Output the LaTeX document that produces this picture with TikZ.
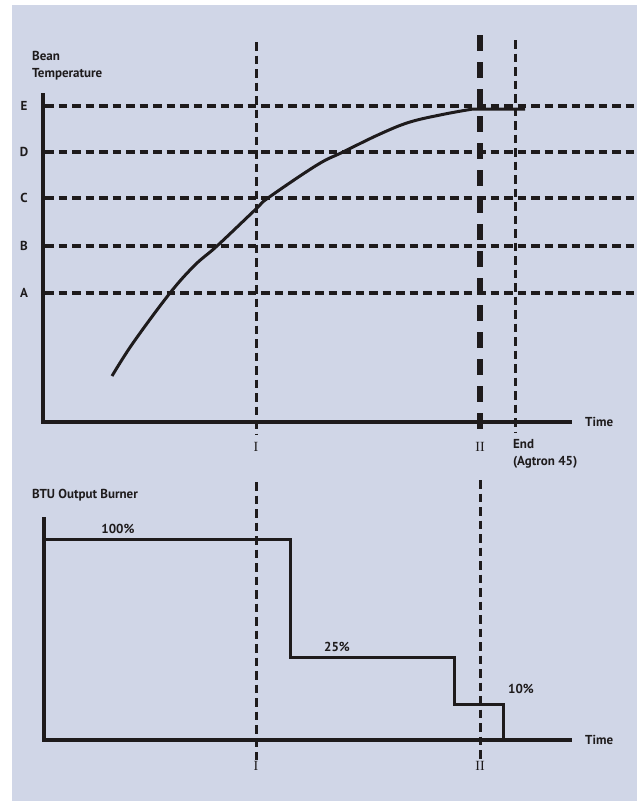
\documentclass[tikz,border=0pt]{standalone}
\usepackage{fontspec}
\setmainfont{PT Sans}
\newfontfamily\numfont{Liberation Serif}
\definecolor{bg}{RGB}{208,214,231}
\definecolor{ink}{RGB}{30,27,28}
\begin{document}
\begin{tikzpicture}[x=1pt,y=-1pt,
 axis/.style={ink, line width=3.2pt},
 gridline/.style={ink, line width=3.2pt, dash pattern=on 8.5pt off 5pt},
 vline/.style={ink, line width=3pt, dash pattern=on 8.5pt off 5pt},
 thickline/.style={ink, line width=6.5pt, dash pattern=on 16pt off 11pt},
 curveline/.style={ink, line width=3pt},
 stepline/.style={ink, line width=3pt},
 lbl/.style={font=\bfseries\fontsize{13}{17}\selectfont, text=ink, inner sep=0pt},
 roman/.style={font=\numfont\fontsize{14}{16}\selectfont, text=ink, inner sep=0pt}]
\useasboundingbox (0,0) rectangle (637,801);
\fill[white] (0,0) rectangle (637,801);
\fill[bg] (12,5) rectangle (637,801);

% ---------- upper chart ----------
\node[lbl, anchor=north west, align=left] (title1) at (32,51) {Bean\\Temperature};
\foreach \n/\y in {E/106, D/152, C/198, B/246, A/293}{
  \node[lbl] (l\n) at (24,\y) {\n};
  \coordinate (g\n a) at (45,\y);
  \coordinate (g\n b) at (637,\y);
  \draw[gridline] (g\n a) -- (g\n b);
}
% vertical markers
\coordinate (v1t) at (256,42);  \coordinate (v1b) at (256,435);
\coordinate (v2t) at (480,35);  \coordinate (v2b) at (480,433);
\coordinate (v3t) at (515,40);  \coordinate (v3b) at (515,433);
\draw[vline] (v1t) -- (v1b);
\draw[thickline] (v2t) -- (v2b);
\draw[vline] (v3t) -- (v3b);

% axes
\coordinate (yt1) at (43,93);
\coordinate (o1) at (43,422);
\coordinate (xe1) at (572,422);
\draw[axis] (yt1) -- (o1) -- (xe1);
\node[lbl, anchor=west] (time1) at (585,422) {Time};

% curve
\coordinate (ce) at (525,109);
\draw[curveline] plot[smooth, tension=0.6] coordinates {(112,376) (133,343) (170,293) (195,265) (217,246) (256,209) (268,198) (317,165) (343,152) (380,134) (410,122) (445,114) (473,109)} -- (ce);

\node[roman] (r1) at (256,447) {I};
\node[roman] (r2) at (480,447) {II};
\node[lbl, anchor=north west, align=left] (endl) at (513,439) {End\\(Agtron 45)};

% ---------- lower chart ----------
\node[lbl, anchor=west] (title2) at (32,495) {BTU Output Burner};
\coordinate (w1t) at (256,482); \coordinate (w1b) at (256,760);
\coordinate (w2t) at (480,480); \coordinate (w2b) at (480,760);
\draw[vline] (w1t) -- (w1b);
\draw[vline] (w2t) -- (w2b);

\coordinate (yt2) at (44,517);
\coordinate (o2) at (44,740);
\coordinate (xe2) at (572,740);
\draw[axis] (yt2) -- (o2) -- (xe2);
\node[lbl, anchor=west] (time2) at (585,740) {Time};

\draw[stepline] (44,539) -- (290,539) -- (290,657) -- (454,657) -- (454,704) -- (503,704) -- (503,740);
\node[lbl] (p100) at (118,529) {100\%};
\node[lbl] (p25) at (337,647) {25\%};
\node[lbl] (p10) at (521,689) {10\%};

\node[roman] (s1) at (256,766) {I};
\node[roman] (s2) at (480,766) {II};
\end{tikzpicture}
\end{document}
